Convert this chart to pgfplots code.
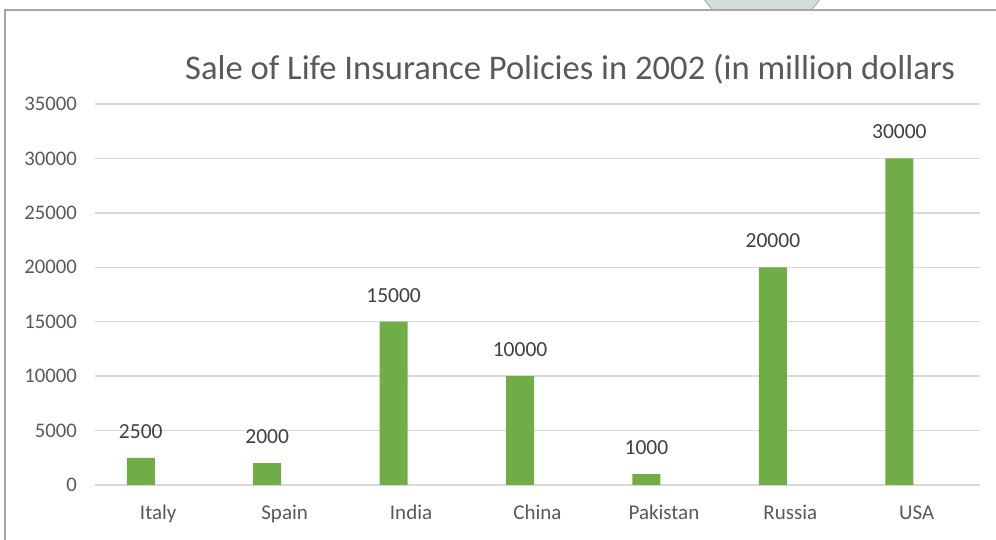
\documentclass[border=0pt]{standalone}
\usepackage{pgfplots}
\pgfplotsset{compat=1.18}
\usepackage{fontspec}
\setmainfont{Carlito}
\definecolor{bargreen}{HTML}{70AD47}
\definecolor{txtgray}{HTML}{595959}
\definecolor{lblgray}{HTML}{404040}
\definecolor{gridgray}{HTML}{D9D9D9}
\definecolor{framegray}{HTML}{A6A6A6}
\definecolor{circfill}{HTML}{D5DDDB}
\definecolor{circedge}{HTML}{9AA7A4}
\begin{document}
\begin{tikzpicture}
\path[use as bounding box] (0pt,0pt) rectangle (996pt,540pt);
\begin{scope}
\clip (0pt,531pt) rectangle (996pt,540pt);
\filldraw[fill=circfill, draw=circedge, line width=0.8pt] (762pt,580pt) circle (70pt);
\end{scope}
\draw[framegray, line width=1.2pt] (5pt,0pt) -- (5pt,530pt) -- (996pt,530pt);
\begin{axis}[
  at={(95pt,55pt)}, anchor=south west,
  scale only axis, width=885pt, height=381pt,
  xmin=-0.5, xmax=6.5, ymin=0, ymax=35000,
  ytick={0,5000,10000,15000,20000,25000,30000,35000},
  xtick={0,1,2,3,4,5,6},
  xticklabels={Italy,Spain,India,China,Pakistan,Russia,USA},
  scaled y ticks=false,
  /pgf/number format/.cd, fixed, 1000 sep={}, assume math mode=true,
  /pgfplots/.cd,
  axis line style={draw=none},
  major tick length=0pt,
  ymajorgrids, grid style={gridgray, line width=1.3pt},
  yticklabel style={font=\fontsize{20.7}{24}\selectfont, text=txtgray, anchor=east, inner sep=0pt, xshift=-18pt},
  xticklabel style={font=\fontsize{21}{25}\selectfont, text=txtgray, anchor=base, inner sep=0pt, yshift=-35pt},
  ybar, bar width=0.2215, bar shift=-0.138,
  nodes near coords,
  every node near coord/.append style={font=\fontsize{21.5}{25}\selectfont, text=lblgray, anchor=base, inner sep=0pt, yshift=19.5pt},
  clip=false,
]
\addplot[fill=bargreen, draw=none] coordinates {(0,2500) (1,2000) (2,15000) (3,10000) (4,1000) (5,20000) (6,30000)};
\end{axis}
\node[anchor=base west, inner sep=0pt, font=\fontsize{34.6}{40}\selectfont, text=txtgray] at (185pt,460pt) {Sale of Life Insurance Policies in 2002 (in million dollars};
\end{tikzpicture}
\end{document}
